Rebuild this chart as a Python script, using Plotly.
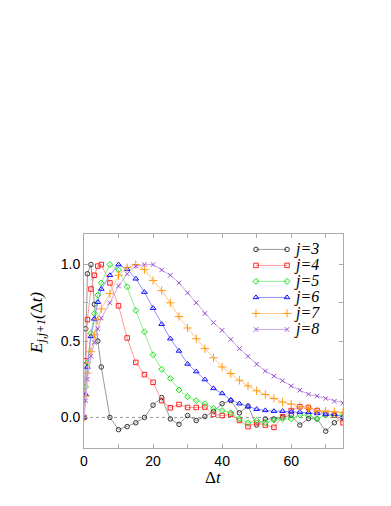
import plotly.graph_objects as go

# time lags (0..5 fine, then every 2.5)
dt = [0, 0.5, 1, 2, 3, 4, 5] + [7.5 + 2.5 * i for i in range(28)]

e_j3 = [0, 0.58, 0.94, 1.0, 0.74, 0.5, 0.33,
        0.0, -0.08, -0.06, -0.035, 0.0, 0.08, 0.13, -0.01, -0.045, 0.012,
        -0.02, 0.006, 0.04, 0.09, 0.11, 0.03, 0.075, -0.05, -0.01, -0.01,
        0.0, 0.015, -0.05, -0.007, -0.01, -0.09, -0.035, 0.0]
e_j4 = [0, 0.37, 0.64, 0.84, 0.93, 0.99, 1.0,
        0.88, 0.73, 0.52, 0.36, 0.28, 0.23, 0.11, 0.063, 0.085, 0.065,
        0.065, 0.068, 0.02, 0.012, 0.02, -0.02, -0.06, -0.035, -0.05, -0.065,
        0.005, 0.045, 0.07, 0.065, 0.045, 0.025, 0.015, -0.035]
e_j5 = [0, 0.2, 0.36, 0.55, 0.68, 0.8, 0.88,
        1.0, 0.965, 0.855, 0.70, 0.56, 0.41, 0.315, 0.255, 0.18, 0.135,
        0.11, 0.09, 0.06, 0.045, 0.03, -0.01, -0.035, -0.02, -0.035, -0.018,
        -0.01, -0.01, 0.015, 0.015, -0.01, 0.015, 0.015, 0.015]
e_j6 = [0, 0.15, 0.33, 0.53, 0.645, 0.754, 0.84,
        0.93, 1.0, 0.97, 0.907, 0.82, 0.715, 0.61, 0.515, 0.435, 0.35,
        0.30, 0.248, 0.19, 0.157, 0.115, 0.09, 0.07, 0.054, 0.046, 0.041,
        0.041, 0.037, 0.035, 0.033, 0.026, 0.02, 0.02, 0.004]
e_j7 = [0, 0.14, 0.29, 0.43, 0.54, 0.64, 0.71,
        0.81, 0.93, 0.98, 1.0, 0.967, 0.896, 0.83, 0.75, 0.66, 0.585,
        0.515, 0.45, 0.39, 0.33, 0.287, 0.243, 0.206, 0.174, 0.15, 0.124,
        0.10, 0.087, 0.07, 0.059, 0.043, 0.041, 0.037, 0.033]
e_j8 = [0, 0.11, 0.25, 0.40, 0.49, 0.58, 0.65,
        0.75, 0.86, 0.94, 0.99, 1.0, 1.0, 0.965, 0.93, 0.88, 0.815,
        0.75, 0.68, 0.62, 0.57, 0.51, 0.45, 0.40, 0.348, 0.304, 0.27,
        0.24, 0.206, 0.178, 0.152, 0.14, 0.124, 0.106, 0.095]

labels = ["j=3", "j=4", "j=5", "j=6", "j=7", "j=8"]
series = [e_j3, e_j4, e_j5, e_j6, e_j7, e_j8]
marker_colors = ["#333333", "#ff2020", "#10e010", "#1010ff", "#ff9a10", "#9a50d0"]
line_colors = ["#9a9a9a", "#ff9a9a", "#90f090", "#9090ff", "#ffc890", "#c8a8e8"]
symbols = ["circle-open", "square-open", "diamond-open", "triangle-up-open",
           "cross-thin-open", "x-thin-open"]
sizes = [4.5, 4.5, 4.5, 5, 6, 4.5]

fig = go.Figure()

for name, vals, mc, lc, sym, sz in zip(labels, series, marker_colors, line_colors, symbols, sizes):
    fig.add_trace(go.Scatter(
        x=dt, y=vals, mode='lines+markers', name=name, showlegend=False,
        line=dict(color=lc, width=1),
        marker=dict(symbol=sym, size=sz, color=mc, line=dict(color=mc, width=1)),
    ))

# hand-made legend (short rows, line with a marker at each end)
row_top = 0.928
row_step = 0.0748
for i, (name, mc, lc, sym, sz) in enumerate(zip(labels, marker_colors, line_colors, symbols, sizes)):
    yy = row_top - i * row_step
    fig.add_trace(go.Scatter(
        x=[0.664, 0.784], y=[yy, yy], xaxis='x2', yaxis='y2',
        mode='lines+markers', showlegend=False, hoverinfo='skip',
        line=dict(color=lc, width=1),
        marker=dict(symbol=sym, size=sz, color=mc, line=dict(color=mc, width=1)),
    ))
    fig.add_annotation(x=0.805, y=yy, xref='paper', yref='paper', text="<i>%s</i>" % name,
                       showarrow=False, xanchor='left', yanchor='middle',
                       font=dict(family="Liberation Serif", size=16, color='black'))

fig.add_shape(type='line', xref='paper', yref='y', x0=0, x1=1, y0=0, y1=0,
              line=dict(color='#999999', width=1, dash='dot'), layer='below')

fig.add_annotation(x=0.5, y=-0.14, xref='paper', yref='paper', text="Δ<i>t</i>",
                   showarrow=False, xanchor='center', yanchor='middle',
                   font=dict(family="Liberation Serif", size=17, color='black'))
fig.add_annotation(x=-0.178, y=0.584, xref='paper', yref='paper', textangle=-90,
                   text="<i>E</i><sub><i>j,j+1</i></sub><i>(</i>Δ<i>t)</i>",
                   showarrow=False, xanchor='center', yanchor='middle',
                   font=dict(family="Liberation Serif", size=17, color='black'))

axis_style = dict(showline=True, linecolor='#aaaaaa', linewidth=1, mirror='ticks',
                  ticks='inside', ticklen=4, tickcolor='#aaaaaa', showgrid=False,
                  zeroline=False, tickfont=dict(family="Liberation Sans", size=14, color='black'))

# page body adds an 8px margin, so the figure is 8px smaller on each side
fig.update_layout(
    width=383, height=498,
    margin=dict(l=76, r=48, t=226, b=58),
    paper_bgcolor='white', plot_bgcolor='white',
    xaxis=dict(range=[0, 75], tickvals=[0, 20, 40, 60], ticktext=["0", "20", "40", "60"],
               minor=dict(dtick=10, ticks='inside', ticklen=4, tickcolor='#aaaaaa'),
               **axis_style),
    yaxis=dict(range=[-0.2, 1.2], tickvals=[0, 0.5, 1.0], ticktext=["0.0", "0.5", "1.0"],
               minor=dict(dtick=0.25, ticks='inside', ticklen=4, tickcolor='#aaaaaa'),
               **axis_style),
    xaxis2=dict(range=[0, 1], overlaying='x', visible=False),
    yaxis2=dict(range=[0, 1], overlaying='y', visible=False),
    showlegend=False,
)

fig.write_html("out.html")
